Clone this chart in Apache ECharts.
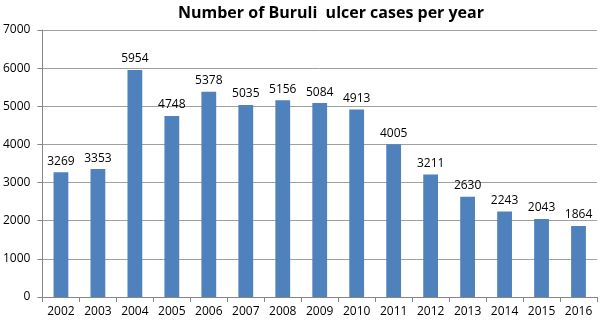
<!DOCTYPE html>
<html><head><meta charset="utf-8">
<script src="https://cdn.jsdelivr.net/npm/echarts@6/dist/echarts.min.js"></script>
<style>html,body{margin:0;padding:0;background:#fff}#c{width:600px;height:321px}</style>
</head><body><div id="c"></div>
<script>
const years = ['2002','2003','2004','2005','2006','2007','2008','2009','2010','2011','2012','2013','2014','2015','2016'];
const cases = [3269,3353,5954,4748,5378,5035,5156,5084,4913,4005,3211,2630,2243,2043,1864];
const yTicks = {min:0, max:7000, interval:1000};
const titleText = 'Number of Buruli  ulcer cases per year';

const chart = echarts.init(document.getElementById('c'), null, {renderer:'canvas'});
chart.setOption({
  animation:false,
  title:{text:titleText, left:326, top:0, textAlign:'center',
    textStyle:{fontFamily:'Open Sans', fontWeight:'bold', fontSize:16, color:'#000'}},
  grid:{left:40, right:3, top:30, bottom:24},
  xAxis:{type:'category', data:years,
    axisLine:{lineStyle:{color:'#868686'}},
    axisTick:{show:true, alignWithLabel:false, length:5, lineStyle:{color:'#868686'}},
    axisLabel:{color:'#000', fontFamily:'Open Sans', fontSize:12, margin:9}},
  yAxis:{type:'value', min:yTicks.min, max:yTicks.max, interval:yTicks.interval,
    axisLine:{show:true, lineStyle:{color:'#868686'}},
    axisTick:{show:true, length:5, lineStyle:{color:'#868686'}},
    splitLine:{lineStyle:{color:'#a0a0a0'}},
    axisLabel:{color:'#000', fontFamily:'Open Sans', fontSize:12, margin:12,
      formatter:function(v){return String(v);}}},
  series:[{type:'bar', data:cases, barWidth:'40%',
    itemStyle:{color:'#4F81BD'},
    label:{show:true, position:'top', distance:5, color:'#000', fontFamily:'Open Sans', fontSize:12}}]
});
</script></body></html>
